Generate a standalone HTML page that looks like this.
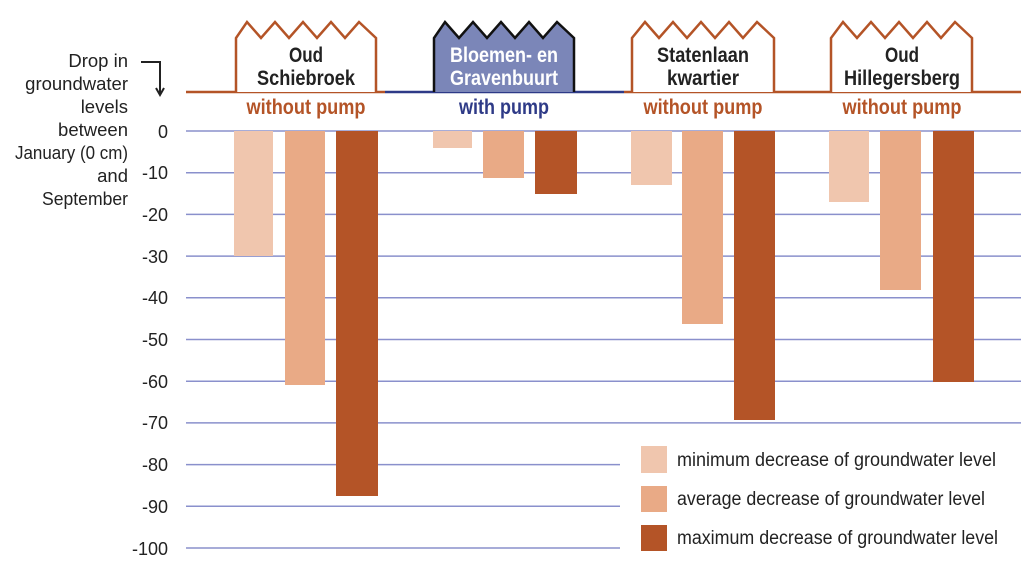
<!DOCTYPE html>
<html><head><meta charset="utf-8"><style>
html,body{margin:0;padding:0;background:#fff;}
svg{display:block;}
text{font-family:"Liberation Sans Narrow","Liberation Sans",sans-serif;}
</style></head><body>
<svg width="1030" height="562" viewBox="0 0 1030 562" xmlns="http://www.w3.org/2000/svg">
<g stroke="#8a90cc" stroke-width="1.5">
<line x1="186" y1="131" x2="1021" y2="131"/>
<line x1="186" y1="172.7" x2="1021" y2="172.7"/>
<line x1="186" y1="214.4" x2="1021" y2="214.4"/>
<line x1="186" y1="256.1" x2="1021" y2="256.1"/>
<line x1="186" y1="297.8" x2="1021" y2="297.8"/>
<line x1="186" y1="339.5" x2="1021" y2="339.5"/>
<line x1="186" y1="381.2" x2="1021" y2="381.2"/>
<line x1="186" y1="422.9" x2="1021" y2="422.9"/>
<line x1="186" y1="464.6" x2="620" y2="464.6"/>
<line x1="186" y1="506.3" x2="620" y2="506.3"/>
<line x1="186" y1="548" x2="620" y2="548"/>
</g>
<g font-size="18" fill="#222" text-anchor="end">
<text x="168" y="138">0</text>
<text x="168" y="179">-10</text>
<text x="168" y="221">-20</text>
<text x="168" y="263">-30</text>
<text x="168" y="304">-40</text>
<text x="168" y="346">-50</text>
<text x="168" y="388">-60</text>
<text x="168" y="429">-70</text>
<text x="168" y="471">-80</text>
<text x="168" y="513">-90</text>
<text x="168" y="555">-100</text>
</g>
<g font-size="18.5" fill="#222" text-anchor="end">
<text x="128" y="67">Drop in</text>
<text x="128" y="90">groundwater</text>
<text x="128" y="113">levels</text>
<text x="128" y="136">between</text>
<text x="128" y="159" textLength="113" lengthAdjust="spacingAndGlyphs">January (0 cm)</text>
<text x="128" y="182">and</text>
<text x="128" y="205" textLength="86" lengthAdjust="spacingAndGlyphs">September</text>
</g>
<path d="M141 62 H160 V94" fill="none" stroke="#222" stroke-width="2"/>
<path d="M156 88 L160 95 L164 88" fill="none" stroke="#222" stroke-width="2"/>
<g>
<rect x="234" y="131" width="39" height="125" fill="#f0c6ae"/>
<rect x="285" y="131" width="40" height="254" fill="#e9aa86"/>
<rect x="336" y="131" width="42" height="365" fill="#b45427"/>
<rect x="433" y="131" width="39" height="17" fill="#f0c6ae"/>
<rect x="483" y="131" width="41" height="47" fill="#e9aa86"/>
<rect x="535" y="131" width="42" height="63" fill="#b45427"/>
<rect x="631" y="131" width="41" height="54" fill="#f0c6ae"/>
<rect x="682" y="131" width="41" height="193" fill="#e9aa86"/>
<rect x="734" y="131" width="41" height="289" fill="#b45427"/>
<rect x="829" y="131" width="40" height="71" fill="#f0c6ae"/>
<rect x="880" y="131" width="41" height="159" fill="#e9aa86"/>
<rect x="933" y="131" width="41" height="251" fill="#b45427"/>
</g>
<line x1="186" y1="92" x2="385" y2="92" stroke="#b45427" stroke-width="2.5"/>
<line x1="385" y1="92" x2="624" y2="92" stroke="#2e3a87" stroke-width="2.5"/>
<line x1="624" y1="92" x2="1021" y2="92" stroke="#b45427" stroke-width="2.5"/>
<path d="M236 92 V38 L247 22 L261 38 L275 22 L289 38 L303 22 L317 38 L331 22 L345 38 L359 22 L376 38 V92" fill="#fff" stroke="#b45427" stroke-width="2.5"/>
<path d="M434 92 V38 L445 22 L459 38 L473 22 L487 38 L501 22 L515 38 L529 22 L543 38 L557 22 L574 38 V92" fill="#7b86b8" stroke="#111" stroke-width="2.5"/>
<path d="M632 92 V38 L645 22 L659 38 L673 22 L687 38 L701 22 L715 38 L729 22 L743 38 L757 22 L774 38 V92" fill="#fff" stroke="#b45427" stroke-width="2.5"/>
<path d="M831 92 V38 L843 22 L857 38 L871 22 L885 38 L899 22 L913 38 L927 22 L941 38 L955 22 L972 38 V92" fill="#fff" stroke="#b45427" stroke-width="2.5"/>
<g font-size="21" font-weight="bold" text-anchor="middle" fill="#222">
<text x="306" y="62" textLength="34" lengthAdjust="spacingAndGlyphs">Oud</text>
<text x="306" y="85" textLength="98" lengthAdjust="spacingAndGlyphs">Schiebroek</text>
<text x="504" y="62" fill="#fff" textLength="108" lengthAdjust="spacingAndGlyphs">Bloemen- en</text>
<text x="504" y="85" fill="#fff" textLength="108" lengthAdjust="spacingAndGlyphs">Gravenbuurt</text>
<text x="703" y="62" textLength="92" lengthAdjust="spacingAndGlyphs">Statenlaan</text>
<text x="703" y="85" textLength="72" lengthAdjust="spacingAndGlyphs">kwartier</text>
<text x="902" y="62" textLength="34" lengthAdjust="spacingAndGlyphs">Oud</text>
<text x="902" y="85" textLength="116" lengthAdjust="spacingAndGlyphs">Hillegersberg</text>
</g>
<g font-size="21" font-weight="bold" text-anchor="middle">
<text x="306" y="114" fill="#b45427" textLength="119" lengthAdjust="spacingAndGlyphs">without pump</text>
<text x="504" y="114" fill="#2e3a87" textLength="90" lengthAdjust="spacingAndGlyphs">with pump</text>
<text x="703" y="114" fill="#b45427" textLength="119" lengthAdjust="spacingAndGlyphs">without pump</text>
<text x="902" y="114" fill="#b45427" textLength="119" lengthAdjust="spacingAndGlyphs">without pump</text>
</g>
<rect x="641" y="446" width="26" height="27" fill="#f0c6ae"/>
<rect x="641" y="486" width="26" height="26" fill="#e9aa86"/>
<rect x="641" y="525" width="26" height="26" fill="#b45427"/>
<g font-size="19" fill="#222">
<text x="677" y="466" textLength="319" lengthAdjust="spacingAndGlyphs">minimum decrease of groundwater level</text>
<text x="677" y="505" textLength="308" lengthAdjust="spacingAndGlyphs">average decrease of groundwater level</text>
<text x="677" y="544" textLength="321" lengthAdjust="spacingAndGlyphs">maximum decrease of groundwater level</text>
</g>
</svg>
</body></html>
